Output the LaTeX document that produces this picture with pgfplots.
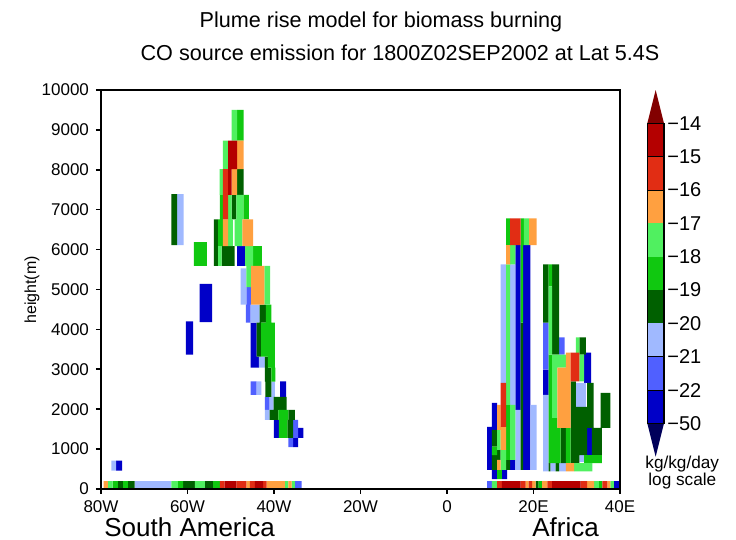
\documentclass[border=0pt]{standalone}
\usepackage{fontspec}
\setmainfont{Liberation Sans}
\usepackage{pgfplots}
\pgfplotsset{compat=1.18}
\definecolor{cB}{RGB}{0,0,200}
\definecolor{cMB}{RGB}{80,96,255}
\definecolor{cLB}{RGB}{160,185,255}
\definecolor{cDG}{RGB}{0,96,0}
\definecolor{cG}{RGB}{16,200,16}
\definecolor{cLG}{RGB}{80,240,96}
\definecolor{cOR}{RGB}{255,160,64}
\definecolor{cR}{RGB}{225,45,20}
\definecolor{cDR}{RGB}{180,0,0}
\definecolor{cTop}{RGB}{130,0,0}
\definecolor{cBot}{RGB}{0,0,90}
\pgfplotsset{cell/.style={draw=none, fill=#1, mark=none, forget plot}}
\begin{document}
\begin{tikzpicture}
\useasboundingbox (0,0) rectangle (368pt,-270pt);
\begin{axis}[
  at={(50.5pt,-244.5pt)}, anchor=south west,
  width=259.5pt, height=199.5pt, scale only axis,
  xmin=-80, xmax=40, ymin=0, ymax=10000,
  xtick={-80,-60,-40,-20,0,20,40},
  xticklabels={80W,60W,40W,20W,0,20E,40E},
  ytick={0,1000,2000,3000,4000,5000,6000,7000,8000,9000,10000},
  scaled y ticks=false,
  tick align=outside, tick pos=left, major tick length=2.5pt,
  axis line style={line width=1pt}, tick style={line width=0.8pt, black},
  unbounded coords=jump,
  ticklabel style={font=\fontsize{8.5}{10}\selectfont},
  /pgf/number format/1000 sep={}, /pgf/number format/assume math mode=true,
  axis on top,
]
% class B
\addplot[cell=cB] coordinates {
(-76.5,460)(-75.1,460)(-75.1,710)(-76.5,710)(nan,nan)
(-57.2,4180)(-54.3,4180)(-54.3,5140)(-57.2,5140)(nan,nan)
(-60.4,3370)(-58.7,3370)(-58.7,4200)(-60.4,4200)(nan,nan)
(-48.5,5590)(-46.7,5590)(-46.7,6090)(-48.5,6090)(nan,nan)
(-45.4,3320)(-44.0,3320)(-44.0,4170)(-45.4,4170)(nan,nan)
(-45.4,3040)(-43.5,3040)(-43.5,3320)(-45.4,3320)(nan,nan)
(-38.6,2310)(-37.2,2310)(-37.2,2700)(-38.6,2700)(nan,nan)
(-40.0,1280)(-38.9,1280)(-38.9,1730)(-40.0,1730)(nan,nan)
(-34.4,1280)(-33.2,1280)(-33.2,1530)(-34.4,1530)(nan,nan)
(-35.6,1050)(-34.4,1050)(-34.4,1280)(-35.6,1280)(nan,nan)
(38.6,0)(39.8,0)(39.8,200)(38.6,200)(nan,nan)
(9.3,480)(10.4,480)(10.4,1560)(9.3,1560)(nan,nan)
(10.4,1480)(11.6,1480)(11.6,2160)(10.4,2160)(nan,nan)
(15.8,1985)(17.0,1985)(17.0,6110)(15.8,6110)(nan,nan)
(17.6,480)(19.3,480)(19.3,6110)(17.6,6110)(nan,nan)
(10.4,250)(11.6,250)(11.6,480)(10.4,480)(nan,nan)
(12.7,250)(13.9,250)(13.9,480)(12.7,480)(nan,nan)
(14.6,480)(15.8,480)(15.8,730)(14.6,730)(nan,nan)
(22.2,2360)(23.5,2360)(23.5,2990)(22.2,2990)(nan,nan)
(31.7,2660)(33.3,2660)(33.3,3420)(31.7,3420)(nan,nan)
(32.4,850)(33.5,850)(33.5,1530)(32.4,1530)
};
% class MB
\addplot[cell=cMB] coordinates {
(-35.2,0)(-33.6,0)(-33.6,200)(-35.2,200)(nan,nan)
(-46.4,4620)(-45.3,4620)(-45.3,5060)(-46.4,5060)(nan,nan)
(-46.5,4170)(-45.4,4170)(-45.4,4620)(-46.5,4620)(nan,nan)
(-45.4,2360)(-44.0,2360)(-44.0,2700)(-45.4,2700)(nan,nan)
(-42.1,1985)(-41.0,1985)(-41.0,2310)(-42.1,2310)(nan,nan)
(-35.6,1280)(-34.4,1280)(-34.4,1730)(-35.6,1730)(nan,nan)
(-36.7,1050)(-35.6,1050)(-35.6,1280)(-36.7,1280)(nan,nan)
(9.3,0)(10.4,0)(10.4,200)(9.3,200)(nan,nan)
(22.2,2990)(23.5,2990)(23.5,4170)(22.2,4170)(nan,nan)
(25.9,3370)(27.2,3370)(27.2,3800)(25.9,3800)
};
% class LB
\addplot[cell=cLB] coordinates {
(-72.2,0)(-63.7,0)(-63.7,200)(-72.2,200)(nan,nan)
(-77.6,460)(-76.5,460)(-76.5,710)(-77.6,710)(nan,nan)
(-62.4,6110)(-60.9,6110)(-60.9,7390)(-62.4,7390)(nan,nan)
(-47.7,4620)(-46.4,4620)(-46.4,5530)(-47.7,5530)(nan,nan)
(-45.4,4170)(-43.3,4170)(-43.3,4620)(-45.4,4620)(nan,nan)
(-43.5,3040)(-42.1,3040)(-42.1,3320)(-43.5,3320)(nan,nan)
(-44.0,2360)(-42.9,2360)(-42.9,2700)(-44.0,2700)(nan,nan)
(-40.6,2310)(-39.8,2310)(-39.8,2690)(-40.6,2690)(nan,nan)
(-41.0,1985)(-40.1,1985)(-40.1,2310)(-41.0,2310)(nan,nan)
(-42.1,1730)(-41.0,1730)(-41.0,1985)(-42.1,1985)(nan,nan)
(12.4,2660)(13.7,2660)(13.7,5630)(12.4,5630)(nan,nan)
(14.6,2110)(15.8,2110)(15.8,5630)(14.6,5630)(nan,nan)
(15.8,480)(17.0,480)(17.0,1985)(15.8,1985)(nan,nan)
(19.3,480)(20.7,480)(20.7,2110)(19.3,2110)(nan,nan)
(22.2,440)(23.5,440)(23.5,2360)(22.2,2360)(nan,nan)
(23.9,440)(25.1,440)(25.1,650)(23.9,650)(nan,nan)
(25.9,440)(27.5,440)(27.5,650)(25.9,650)(nan,nan)
(29.8,2060)(32.1,2060)(32.1,2660)(29.8,2660)(nan,nan)
(30.6,680)(31.7,680)(31.7,850)(30.6,850)
};
% class DG
\addplot[cell=cDG] coordinates {
(-76.1,0)(-74.9,0)(-74.9,200)(-76.1,200)(nan,nan)
(-73.8,0)(-72.2,0)(-72.2,200)(-73.8,200)(nan,nan)
(-61.0,0)(-58.3,0)(-58.3,200)(-61.0,200)(nan,nan)
(-56.0,0)(-54.1,0)(-54.1,200)(-56.0,200)(nan,nan)
(-63.7,6110)(-62.4,6110)(-62.4,7390)(-63.7,7390)(nan,nan)
(-48.5,7370)(-47.0,7370)(-47.0,8020)(-48.5,8020)(nan,nan)
(-49.8,6760)(-48.7,6760)(-48.7,7370)(-49.8,7370)(nan,nan)
(-53.9,5590)(-52.9,5590)(-52.9,6760)(-53.9,6760)(nan,nan)
(-52.1,5590)(-49.1,5590)(-49.1,6090)(-52.1,6090)(nan,nan)
(-43.3,4170)(-41.9,4170)(-41.9,4620)(-43.3,4620)(nan,nan)
(-44.0,3320)(-43.0,3320)(-43.0,4170)(-44.0,4170)(nan,nan)
(-42.1,3040)(-41.4,3040)(-41.4,3320)(-42.1,3320)(nan,nan)
(-42.1,2690)(-40.6,2690)(-40.6,3040)(-42.1,3040)(nan,nan)
(-42.0,2310)(-40.6,2310)(-40.6,2690)(-42.0,2690)(nan,nan)
(-40.1,1985)(-37.1,1985)(-37.1,2310)(-40.1,2310)(nan,nan)
(-41.0,1730)(-39.0,1730)(-39.0,1985)(-41.0,1985)(nan,nan)
(-36.7,1730)(-35.2,1730)(-35.2,1985)(-36.7,1985)(nan,nan)
(-36.9,1280)(-35.6,1280)(-35.6,1730)(-36.9,1730)(nan,nan)
(20.5,0)(21.2,0)(21.2,200)(20.5,200)(nan,nan)
(10.4,1060)(11.6,1060)(11.6,1480)(10.4,1480)(nan,nan)
(10.4,480)(11.6,480)(11.6,850)(10.4,850)(nan,nan)
(11.6,730)(12.4,730)(12.4,980)(11.6,980)(nan,nan)
(13.7,480)(14.6,480)(14.6,730)(13.7,730)(nan,nan)
(17.0,480)(17.6,480)(17.6,4170)(17.0,4170)(nan,nan)
(22.2,4170)(23.5,4170)(23.5,5630)(22.2,5630)(nan,nan)
(24.3,3370)(25.9,3370)(25.9,5630)(24.3,5630)(nan,nan)
(26.3,650)(27.5,650)(27.5,1530)(26.3,1530)(nan,nan)
(23.5,440)(23.9,440)(23.9,650)(23.5,650)(nan,nan)
(25.1,440)(25.9,440)(25.9,650)(25.1,650)(nan,nan)
(30.6,3370)(32.1,3370)(32.1,3800)(30.6,3800)(nan,nan)
(28.6,2060)(29.8,2060)(29.8,2700)(28.6,2700)(nan,nan)
(28.6,850)(32.4,850)(32.4,2060)(28.6,2060)(nan,nan)
(28.6,650)(30.6,650)(30.6,850)(28.6,850)(nan,nan)
(32.4,1530)(33.9,1530)(33.9,2660)(32.4,2660)(nan,nan)
(33.5,850)(35.8,850)(35.8,1530)(33.5,1530)(nan,nan)
(35.5,1530)(37.8,1530)(37.8,2410)(35.5,2410)
};
% class G
\addplot[cell=cG] coordinates {
(-77.3,0)(-76.1,0)(-76.1,200)(-77.3,200)(nan,nan)
(-74.9,0)(-73.8,0)(-73.8,200)(-74.9,200)(nan,nan)
(-62.2,0)(-61.0,0)(-61.0,200)(-62.2,200)(nan,nan)
(-54.1,0)(-52.5,0)(-52.5,200)(-54.1,200)(nan,nan)
(-58.5,5590)(-55.5,5590)(-55.5,6190)(-58.5,6190)(nan,nan)
(-48.5,8730)(-47.0,8730)(-47.0,9500)(-48.5,9500)(nan,nan)
(-52.5,6760)(-51.8,6760)(-51.8,7370)(-52.5,7370)(nan,nan)
(-47.1,6760)(-45.8,6760)(-45.8,7370)(-47.1,7370)(nan,nan)
(-52.9,6090)(-51.8,6090)(-51.8,6760)(-52.9,6760)(nan,nan)
(-44.8,5590)(-42.8,5590)(-42.8,6090)(-44.8,6090)(nan,nan)
(-41.9,4170)(-40.6,4170)(-40.6,4620)(-41.9,4620)(nan,nan)
(-43.0,3320)(-39.8,3320)(-39.8,4170)(-43.0,4170)(nan,nan)
(-41.4,3040)(-39.8,3040)(-39.8,3320)(-41.4,3320)(nan,nan)
(-40.6,2690)(-39.7,2690)(-39.7,3040)(-40.6,3040)(nan,nan)
(-39.0,1730)(-36.7,1730)(-36.7,1985)(-39.0,1985)(nan,nan)
(-38.9,1280)(-36.9,1280)(-36.9,1730)(-38.9,1730)(nan,nan)
(21.2,0)(22.0,0)(22.0,200)(21.2,200)(nan,nan)
(35.1,0)(35.9,0)(35.9,200)(35.1,200)(nan,nan)
(10.4,850)(11.6,850)(11.6,1060)(10.4,1060)(nan,nan)
(13.7,730)(14.6,730)(14.6,2110)(13.7,2110)(nan,nan)
(13.7,6110)(14.6,6110)(14.6,6780)(13.7,6780)(nan,nan)
(17.0,4170)(17.6,4170)(17.6,6110)(17.0,6110)(nan,nan)
(17.0,6110)(17.8,6110)(17.8,6780)(17.0,6780)(nan,nan)
(11.6,250)(12.7,250)(12.7,480)(11.6,480)(nan,nan)
(23.5,5080)(24.3,5080)(24.3,5630)(23.5,5630)(nan,nan)
(23.5,650)(24.3,650)(24.3,3370)(23.5,3370)(nan,nan)
(24.3,650)(25.5,650)(25.5,1780)(24.3,1780)(nan,nan)
(25.5,650)(26.3,650)(26.3,1530)(25.5,1530)(nan,nan)
(27.5,650)(28.6,650)(28.6,1530)(27.5,1530)(nan,nan)
(31.7,650)(35.8,650)(35.8,850)(31.7,850)
};
% class LG
\addplot[cell=cLG] coordinates {
(-78.4,0)(-77.3,0)(-77.3,200)(-78.4,200)(nan,nan)
(-63.7,0)(-62.2,0)(-62.2,200)(-63.7,200)(nan,nan)
(-58.3,0)(-56.0,0)(-56.0,200)(-58.3,200)(nan,nan)
(-37.5,0)(-36.7,0)(-36.7,200)(-37.5,200)(nan,nan)
(-35.9,0)(-35.2,0)(-35.2,200)(-35.9,200)(nan,nan)
(-49.8,8730)(-48.5,8730)(-48.5,9500)(-49.8,9500)(nan,nan)
(-51.8,8020)(-50.6,8020)(-50.6,8730)(-51.8,8730)(nan,nan)
(-52.6,7370)(-51.8,7370)(-51.8,8020)(-52.6,8020)(nan,nan)
(-50.6,6760)(-49.8,6760)(-49.8,7370)(-50.6,7370)(nan,nan)
(-48.7,6760)(-47.1,6760)(-47.1,7370)(-48.7,7370)(nan,nan)
(-50.6,6090)(-49.5,6090)(-49.5,6760)(-50.6,6760)(nan,nan)
(-49.1,6090)(-47.3,6090)(-47.3,6760)(-49.1,6760)(nan,nan)
(-52.9,5590)(-52.1,5590)(-52.1,6090)(-52.9,6090)(nan,nan)
(-46.7,5590)(-44.8,5590)(-44.8,6090)(-46.7,6090)(nan,nan)
(-46.4,5060)(-45.3,5060)(-45.3,5590)(-46.4,5590)(nan,nan)
(-42.2,4620)(-40.9,4620)(-40.9,5590)(-42.2,5590)(nan,nan)
(10.4,0)(11.6,0)(11.6,200)(10.4,200)(nan,nan)
(34.0,0)(35.1,0)(35.1,200)(34.0,200)(nan,nan)
(37.8,0)(38.6,0)(38.6,200)(37.8,200)(nan,nan)
(11.6,980)(12.4,980)(12.4,1480)(11.6,1480)(nan,nan)
(12.4,480)(13.7,480)(13.7,980)(12.4,980)(nan,nan)
(13.7,2110)(14.6,2110)(14.6,5630)(13.7,5630)(nan,nan)
(14.6,5630)(15.8,5630)(15.8,6110)(14.6,6110)(nan,nan)
(14.6,730)(15.8,730)(15.8,2110)(14.6,2110)(nan,nan)
(17.8,6110)(19.0,6110)(19.0,6780)(17.8,6780)(nan,nan)
(23.5,3370)(24.3,3370)(24.3,5080)(23.5,5080)(nan,nan)
(24.3,1780)(25.5,1780)(25.5,3370)(24.3,3370)(nan,nan)
(25.5,3040)(27.5,3040)(27.5,3370)(25.5,3370)(nan,nan)
(29.4,440)(33.6,440)(33.6,650)(29.4,650)(nan,nan)
(29.8,3370)(30.6,3370)(30.6,3800)(29.8,3800)(nan,nan)
(30.6,2700)(31.7,2700)(31.7,3370)(30.6,3370)
};
% class OR
\addplot[cell=cOR] coordinates {
(-79.4,0)(-78.4,0)(-78.4,200)(-79.4,200)(nan,nan)
(-46.4,0)(-45.6,0)(-45.6,200)(-46.4,200)(nan,nan)
(-41.7,0)(-37.5,0)(-37.5,200)(-41.7,200)(nan,nan)
(-36.7,0)(-35.9,0)(-35.9,200)(-36.7,200)(nan,nan)
(-48.5,8020)(-47.0,8020)(-47.0,8730)(-48.5,8730)(nan,nan)
(-49.8,7370)(-48.5,7370)(-48.5,8020)(-49.8,8020)(nan,nan)
(-51.8,6090)(-50.6,6090)(-50.6,6760)(-51.8,6760)(nan,nan)
(-47.3,6090)(-44.8,6090)(-44.8,6760)(-47.3,6760)(nan,nan)
(-45.3,4620)(-42.2,4620)(-42.2,5590)(-45.3,5590)(nan,nan)
(18.2,0)(18.9,0)(18.9,200)(18.2,200)(nan,nan)
(19.7,0)(20.5,0)(20.5,200)(19.7,200)(nan,nan)
(22.0,0)(23.2,0)(23.2,200)(22.0,200)(nan,nan)
(32.4,0)(34.0,0)(34.0,200)(32.4,200)(nan,nan)
(37.1,0)(37.8,0)(37.8,200)(37.1,200)(nan,nan)
(11.6,1480)(12.4,1480)(12.4,2110)(11.6,2110)(nan,nan)
(11.6,480)(12.4,480)(12.4,730)(11.6,730)(nan,nan)
(12.4,980)(13.7,980)(13.7,1560)(12.4,1560)(nan,nan)
(13.7,5630)(14.6,5630)(14.6,6110)(13.7,6110)(nan,nan)
(19.0,6110)(20.7,6110)(20.7,6780)(19.0,6780)(nan,nan)
(27.5,3040)(28.6,3040)(28.6,3420)(27.5,3420)(nan,nan)
(25.5,1530)(28.6,1530)(28.6,3040)(25.5,3040)(nan,nan)
(27.5,440)(29.4,440)(29.4,650)(27.5,650)
};
% class R
\addplot[cell=cR] coordinates {
(-52.5,0)(-51.4,0)(-51.4,200)(-52.5,200)(nan,nan)
(-48.7,0)(-46.4,0)(-46.4,200)(-48.7,200)(nan,nan)
(-45.6,0)(-44.4,0)(-44.4,200)(-45.6,200)(nan,nan)
(-42.5,0)(-41.7,0)(-41.7,200)(-42.5,200)(nan,nan)
(-51.8,6760)(-50.6,6760)(-50.6,8020)(-51.8,8020)(nan,nan)
(11.6,0)(12.7,0)(12.7,200)(11.6,200)(nan,nan)
(17.0,0)(18.2,0)(18.2,200)(17.0,200)(nan,nan)
(18.9,0)(19.7,0)(19.7,200)(18.9,200)(nan,nan)
(23.2,0)(24.3,0)(24.3,200)(23.2,200)(nan,nan)
(30.9,0)(32.4,0)(32.4,200)(30.9,200)(nan,nan)
(35.9,0)(37.1,0)(37.1,200)(35.9,200)(nan,nan)
(12.4,1560)(13.7,1560)(13.7,2660)(12.4,2660)(nan,nan)
(14.6,6110)(17.0,6110)(17.0,6780)(14.6,6780)(nan,nan)
(28.6,2700)(30.6,2700)(30.6,3420)(28.6,3420)
};
% class DR
\addplot[cell=cDR] coordinates {
(-51.4,0)(-48.7,0)(-48.7,200)(-51.4,200)(nan,nan)
(-44.4,0)(-42.5,0)(-42.5,200)(-44.4,200)(nan,nan)
(-50.6,8020)(-48.5,8020)(-48.5,8730)(-50.6,8730)(nan,nan)
(-50.6,7370)(-49.8,7370)(-49.8,8020)(-50.6,8020)(nan,nan)
(12.7,0)(17.0,0)(17.0,200)(12.7,200)(nan,nan)
(24.3,0)(30.9,0)(30.9,200)(24.3,200)
};
\end{axis}
% colour bar
\begin{axis}[
  at={(323.65pt,-228.35pt)}, anchor=south west,
  width=8.35pt, height=183.33pt, scale only axis,
  xmin=0, xmax=1, ymin=-1, ymax=10,
  axis line style={draw=none},
  xtick=\empty, ytick={0,1,2,3,4,5,6,7,8,9},
  yticklabels={−50,−22,−21,−20,−19,−18,−17,−16,−15,−14},
  ytick pos=right, yticklabel pos=right,
  major tick length=0pt,
  yticklabel style={font=\fontsize{10}{12}\selectfont, anchor=west, inner sep=0pt, xshift=1.5pt},
  clip=false, unbounded coords=jump,
]
\addplot[cell=cBot] coordinates {(0,0)(1,0)(0.5,-1)};
\addplot[cell=cB] coordinates {(0,0)(1,0)(1,1)(0,1)};
\addplot[cell=cMB] coordinates {(0,1)(1,1)(1,2)(0,2)};
\addplot[cell=cLB] coordinates {(0,2)(1,2)(1,3)(0,3)};
\addplot[cell=cDG] coordinates {(0,3)(1,3)(1,4)(0,4)};
\addplot[cell=cG] coordinates {(0,4)(1,4)(1,5)(0,5)};
\addplot[cell=cLG] coordinates {(0,5)(1,5)(1,6)(0,6)};
\addplot[cell=cOR] coordinates {(0,6)(1,6)(1,7)(0,7)};
\addplot[cell=cR] coordinates {(0,7)(1,7)(1,8)(0,8)};
\addplot[cell=cDR] coordinates {(0,8)(1,8)(1,9)(0,9)};
\addplot[cell=cTop] coordinates {(0,9)(1,9)(0.5,10)};
\addplot[black, line width=0.6pt, mark=none, forget plot] coordinates {(0,0)(1,0)(1,9)(0,9)(0,0)};
\addplot[black, line width=0.5pt, mark=none, forget plot] coordinates {(0,1)(1,1)(nan,nan)(0,2)(1,2)(nan,nan)(0,7)(1,7)(nan,nan)(0,8)(1,8)};
\end{axis}
\node[font=\fontsize{10.8}{13}\selectfont] at (190.5pt,-11pt) {Plume rise model for biomass burning};
\node[font=\fontsize{10.8}{13}\selectfont] at (200pt,-26.5pt) {CO source emission for 1800Z02SEP2002 at Lat 5.4S};
\node[rotate=90, font=\fontsize{8}{10}\selectfont] at (16pt,-145pt) {height(m)};
\node[anchor=base west, inner sep=0pt, font=\fontsize{13}{15}\selectfont] at (52pt,-268.3pt) {South America};
\node[anchor=base west, inner sep=0pt, font=\fontsize{13}{15}\selectfont] at (266pt,-268.3pt) {Africa};
\node[anchor=base west, inner sep=0pt, font=\fontsize{8.6}{10}\selectfont] at (322.5pt,-234.3pt) {kg/kg/day};
\node[anchor=base west, inner sep=0pt, font=\fontsize{8.6}{10}\selectfont] at (324pt,-242.8pt) {log scale};
\end{tikzpicture}
\end{document}
